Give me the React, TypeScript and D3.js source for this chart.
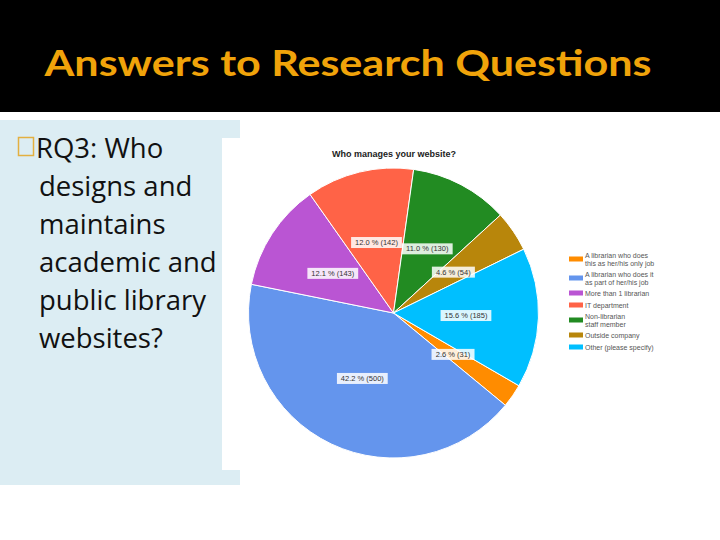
import React from "react";
import * as d3 from "d3";

const categories = [
  "A librarian who does|this as her/his only job",
  "A librarian who does it|as part of her/his job",
  "More than 1 librarian",
  "IT department",
  "Non-librarian|staff member",
  "Outside company",
  "Other (please specify)",
];
const counts = [31, 500, 143, 142, 130, 54, 185];
const colors = ["darkorange", "cornflowerblue", "mediumorchid", "tomato", "forestgreen", "darkgoldenrod", "deepskyblue"];
const bodyLines = ["RQ3: Who", "designs and", "maintains", "academic and", "public library", "websites?"];
const slideTitle = "Answers to Research Questions";
const chartTitle = "Who manages your website?";

export default function App() {
  const W = 720, H = 540;
  const cx = 393.5, cy = 313, R = 145;
  const total = d3.sum(counts);
  const start = (120.1 * Math.PI) / 180;
  const pie = d3.pie<number>().sort(null).startAngle(start).endAngle(start + 2 * Math.PI);
  const arcs = pie(counts);
  const arcGen = d3.arc<d3.PieArcDatum<number>>().innerRadius(0).outerRadius(R);
  const labelArc = d3.arc<d3.PieArcDatum<number>>().innerRadius(R * 0.5).outerRadius(R * 0.5);
  const fmt = d3.format(".1f");
  const legendY = [259, 278, 293, 305, 320, 335, 347];

  return (
    <svg width={W} height={H} style={{ position: "absolute", left: 0, top: 0 }}>
      <rect x={0} y={0} width={W} height={H} fill="#ffffff" />
      <rect x={0} y={0} width={W} height={112} fill="#000000" />
      <text x={348} y={76} textAnchor="middle" fontFamily="Lato, 'Open Sans', sans-serif" fontWeight="bold" fontSize={37} fill="#F0A30A" textLength={607} lengthAdjust="spacingAndGlyphs">
        {slideTitle}
      </text>
      <rect x={0} y={120} width={240} height={365} fill="#DCEDF3" />
      <rect x={222} y={138} width={W - 222} height={332} fill="#ffffff" />
      <rect x={18.5} y={137.5} width={15} height={18} fill="none" stroke="#E3B040" strokeWidth={1.5} />
      {bodyLines.map((l, i) => (
        <text key={i} x={i === 0 ? 36 : 39} y={158 + i * 38} fontFamily="'Open Sans', sans-serif" fontSize={27.5} fill="#111">
          {l}
        </text>
      ))}
      <text x={332} y={157} fontFamily="Arial, 'Liberation Sans', sans-serif" fontWeight="bold" fontSize={9} fill="#222">
        {chartTitle}
      </text>
      <g transform={`translate(${cx},${cy})`}>
        {arcs.map((a, i) => (
          <path key={i} d={arcGen(a) || ""} fill={colors[i]} stroke="#ffffff" strokeWidth={1} />
        ))}
        {arcs.map((a, i) => {
          const [lx, ly] = labelArc.centroid(a);
          const t = `${fmt((counts[i] / total) * 100)} % (${counts[i]})`;
          const w = t.length * 3.9 + 4;
          return (
            <g key={"l" + i} transform={`translate(${lx},${ly})`}>
              <rect x={-w / 2} y={-5.5} width={w} height={11} fill="#ffffff" opacity={0.85} />
              <text x={0} y={2.6} textAnchor="middle" fontFamily="Arial, 'Liberation Sans', sans-serif" fontSize={7.5} fill="#333">
                {t}
              </text>
            </g>
          );
        })}
      </g>
      {categories.map((c, i) => {
        const lines = c.split("|");
        const y0 = legendY[i];
        return (
          <g key={"g" + i}>
            <rect x={569} y={y0 - 2.5} width={14} height={5} fill={colors[i]} />
            {lines.map((ln, j) => (
              <text key={j} x={585} y={y0 + 2.5 + (j - (lines.length - 1) / 2) * 8} fontFamily="Arial, 'Liberation Sans', sans-serif" fontSize={7} fill="#555">
                {ln}
              </text>
            ))}
          </g>
        );
      })}
    </svg>
  );
}
